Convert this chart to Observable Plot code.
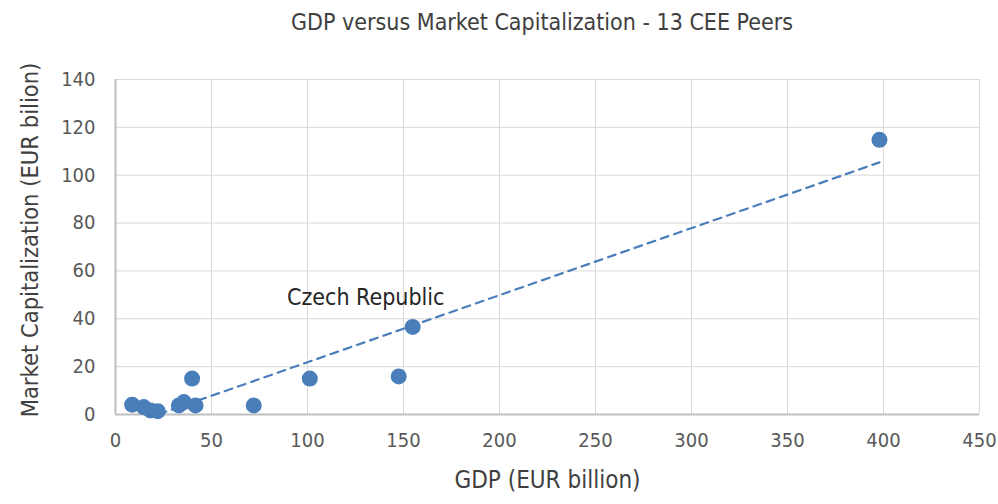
<!DOCTYPE html>
<html>
<head>
<meta charset="utf-8">
<script src="https://cdn.jsdelivr.net/npm/d3@7"></script>
<script src="https://cdn.jsdelivr.net/npm/@observablehq/plot@0.6"></script>
<style>
  body { margin: 0; background: #fff; font-family: "DejaVu Sans Condensed", "Liberation Sans Narrow", "Open Sans", sans-serif; }
  #title { height: 45px; width: 998px; box-sizing: border-box; padding-left: 86px; text-align: center; font-size: 23px; line-height: 45px; color: #404040; }
  svg { display: block; }
</style>
</head>
<body>
<div id="title">GDP versus Market Capitalization - 13 CEE Peers</div>
<div id="chart"></div>
<script>
const gdp    = [8.7, 14.7, 18.2, 22.0, 33.0, 35.6, 41.7, 39.9, 72.0, 101.2, 147.5, 154.8, 397.9];
const mcap   = [4.1, 3.1, 1.7, 1.4, 3.8, 5.2, 3.8, 15.0, 3.8, 15.0, 15.9, 36.6, 114.8];
const labels = ["", "", "", "", "", "", "", "", "", "", "", "Czech Republic", ""];
const xTicks = [0, 50, 100, 150, 200, 250, 300, 350, 400, 450];
const yTicks = [0, 20, 40, 60, 80, 100, 120, 140];

const data = gdp.map((g, i) => ({gdp: g, mcap: mcap[i], label: labels[i]}));
const font = "DejaVu Sans Condensed, Liberation Sans Narrow, Open Sans, sans-serif";
const blue = "#4a7ebb";

const chart = Plot.plot({
  width: 998,
  height: 459,
  marginLeft: 115,
  marginRight: 19,
  marginTop: 34,
  marginBottom: 90,
  style: {fontFamily: font, fontSize: "20px", color: "#595959", background: "#fff"},
  x: {domain: [0, 450], ticks: xTicks, label: null},
  y: {domain: [0, 140], ticks: yTicks, label: null},
  marks: [
    Plot.gridX(xTicks, {stroke: "#d9d9d9", strokeOpacity: 1, strokeWidth: 1}),
    Plot.gridY(yTicks, {stroke: "#d9d9d9", strokeOpacity: 1, strokeWidth: 1}),
    Plot.ruleX([0], {stroke: "#bfbfbf", strokeWidth: 2}),
    Plot.ruleY([0], {stroke: "#bfbfbf", strokeWidth: 2}),
    Plot.axisX(xTicks, {tickSize: 0, tickPadding: 18, fontSize: 20, fill: "#595959", label: null}),
    Plot.axisY(yTicks, {tickSize: 0, tickPadding: 20, fontSize: 20, fill: "#595959", label: null}),
    Plot.text(["GDP (EUR billion)"], {frameAnchor: "bottom", dy: 73, fontSize: 24, fill: "#404040"}),
    Plot.text(["Market Capitalization (EUR bilion)"], {frameAnchor: "left", textAnchor: "middle", dx: -85, dy: -7, rotate: -90, fontSize: 23.5, fill: "#404040"}),
    Plot.linearRegressionY(data, {x: "gdp", y: "mcap", stroke: blue, strokeWidth: 2.2, strokeDasharray: "8,6", ci: 0, clip: true}),
    Plot.dot(data, {x: "gdp", y: "mcap", r: 8, fill: blue, stroke: "none"}),
    Plot.text(data.filter(d => d.label), {x: "gdp", y: "mcap", text: "label", dx: -47, dy: -29, fontSize: 23, fill: "#262626", textAnchor: "middle"})
  ]
});
document.getElementById("chart").append(chart);
</script>
</body>
</html>
